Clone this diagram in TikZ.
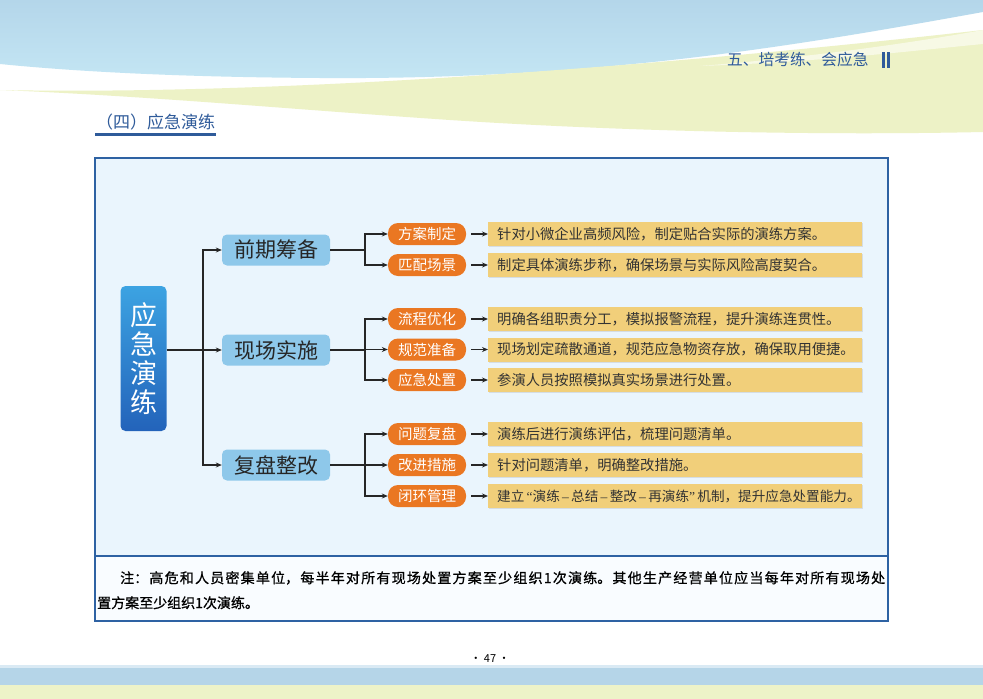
\documentclass[tikz,border=0pt]{standalone}
\usepackage{fontspec}
\setmainfont{Noto Sans CJK SC}
\newfontfamily\notefont[FakeBold=0.8]{Noto Sans CJK SC}
\newfontfamily\latinf{Liberation Serif}
\usetikzlibrary{arrows.meta,shadows}
\XeTeXlinebreaklocale "zh"
\XeTeXlinebreakskip=0pt plus 2pt
\newcommand{\dtext}[1]{\makebox[356pt][l]{#1}}
\definecolor{skyA}{HTML}{B4D6EA}
\definecolor{skyB}{HTML}{C4E6F4}
\definecolor{lime}{HTML}{EDF2C6}
\definecolor{hdrblue}{HTML}{2F5B9A}
\definecolor{framec}{HTML}{2E62A3}
\definecolor{upperfill}{HTML}{EAF5FD}
\definecolor{lowerfill}{HTML}{F9FCFF}
\definecolor{rootTop}{HTML}{3CA3E2}
\definecolor{rootBot}{HTML}{2363BA}
\definecolor{lvtwoc}{HTML}{8EC8EA}
\definecolor{orangec}{HTML}{EA7722}
\definecolor{descc}{HTML}{F1CF7A}
\definecolor{linec}{HTML}{262626}
\definecolor{bandblue}{HTML}{B5D5E8}
\definecolor{bandyel}{HTML}{EDF3C8}
\tikzset{
  rootbox/.style={rounded corners=5pt, top color=rootTop, bottom color=rootBot,
    minimum width=46pt, minimum height=145pt, inner sep=0pt, text=white, align=center,
    font=\fontsize{27}{29}\selectfont},
  lvtwo/.style={rounded corners=5pt, fill=lvtwoc, minimum width=108pt, minimum height=31pt,
    inner sep=0pt, text=black!85, font=\fontsize{21}{22}\selectfont},
  lvthree/.style={rounded corners=10pt, fill=orangec, minimum width=78pt, minimum height=22pt,
    inner sep=0pt, text=white, font=\fontsize{14.5}{16}\selectfont},
  descbox/.style={anchor=west, fill=descc, minimum width=374pt, minimum height=24pt,
    inner xsep=9pt, inner ysep=0pt, text=black!80,
    font=\fontsize{14.3}{15}\selectfont,
    drop shadow={shadow xshift=1pt, shadow yshift=-1pt, opacity=0.25, fill=black!40}},
  conn/.style={draw=linec, line width=1.2pt},
  arr/.style={conn, -{Stealth[length=6pt,width=5pt]}},
}
\begin{document}
\begin{tikzpicture}[x=1pt,y=-1pt]
\useasboundingbox (0,0) rectangle (983,699);
% background
\fill[white] (0,0) rectangle (983,699);
\shade[top color=skyA, bottom color=skyB]
  (0,0) -- (983,0) -- (983,12) .. controls (800,45) and (600,80) .. (320,78)
  .. controls (160,77) and (60,70) .. (0,64) -- cycle;
\fill[lime]
  (0,90) .. controls (300,96) and (700,62) .. (983,30) -- (983,132)
  .. controls (800,136) and (600,130) .. (450,120)
  .. controls (300,110) and (150,96) .. (0,90) -- cycle;
\fill[white!55!lime] (983,30) .. controls (900,45) and (800,58) .. (700,66) -- (700,66)
  .. controls (820,62) and (920,50) .. (983,44) -- cycle;
% bottom bands
\fill[bandblue!50] (0,665) rectangle (983,668);
\fill[bandblue] (0,668) rectangle (983,685);
\fill[bandyel] (0,685) rectangle (983,699);
\node[font=\fontsize{11}{12}\selectfont] (pg) at (490,659) {· 47 ·};
% header
\node[anchor=west, text=hdrblue, inner sep=0pt, font=\fontsize{15.7}{16}\selectfont] (hdr) at (727,60) {五、培考练、会应急};
\fill[hdrblue] (882,52) rectangle (885,68);
\fill[hdrblue] (887,52) rectangle (890,68);
% title
\node[anchor=west, text=hdrblue, inner sep=0pt, font=\fontsize{17}{18}\selectfont] (ttl) at (96,122) {（四）应急演练};
\draw[hdrblue, line width=3pt] (95,134.5) -- (216,134.5);
% frame
\fill[upperfill] (95,158) rectangle (888,556);
\fill[lowerfill] (95,556) rectangle (888,621);
\draw[framec, line width=1.6pt] (95,556) -- (888,556);
\draw[framec, line width=2pt] (95,158) rectangle (888,621);
% nodes
\node[rootbox] (root) at (143.5,358.5) {应\\急\\演\\练};
\node[lvtwo] (a) at (276,250) {前期筹备};
\node[lvtwo] (b) at (276,350) {现场实施};
\node[lvtwo] (c) at (276,465) {复盘整改};
\node[lvthree] (o1) at (427,234) {方案制定};
\node[lvthree] (o2) at (427,265) {匹配场景};
\node[lvthree] (o3) at (427,319) {流程优化};
\node[lvthree] (o4) at (427,349.5) {规范准备};
\node[lvthree] (o5) at (427,380) {应急处置};
\node[lvthree] (o6) at (427,434) {问题复盘};
\node[lvthree] (o7) at (427,465) {改进措施};
\node[lvthree] (o8) at (427,496) {闭环管理};
\node[descbox] (d1) at (488,234) {\dtext{针对小微企业高频风险，制定贴合实际的演练方案。}};
\node[descbox] (d2) at (488,265) {\dtext{制定具体演练步称，确保场景与实际风险高度契合。}};
\node[descbox] (d3) at (488,319) {\dtext{明确各组职责分工，模拟报警流程，提升演练连贯性。}};
\node[descbox] (d4) at (488,349.5) {\dtext{现场划定疏散通道，规范应急物资存放，确保取用便捷。}};
\node[descbox] (d5) at (488,380) {\dtext{参演人员按照模拟真实场景进行处置。}};
\node[descbox] (d6) at (488,434) {\dtext{演练后进行演练评估，梳理问题清单。}};
\node[descbox] (d7) at (488,465) {\dtext{针对问题清单，明确整改措施。}};
\node[descbox, font=\fontsize{13.6}{15}\selectfont] (d8) at (488,496) {\dtext{建立{\latinf\,“}演练{\latinf\,–\,}总结{\latinf\,–\,}整改{\latinf\,–\,}再演练{\latinf ”\,}机制，提升应急处置能力。}};
% connectors
\coordinate (j0) at (203,350);
\coordinate (ja) at (365,250);
\coordinate (jb) at (365,350);
\coordinate (jc) at (365,465);
\draw[conn] (root.east |- j0) -- (j0);
\draw[arr] (j0) |- (a.west);
\draw[arr] (j0) -- (b.west);
\draw[arr] (j0) |- (c.west);
\draw[conn] (a.east) -- (ja);
\draw[conn] (b.east) -- (jb);
\draw[conn] (c.east) -- (jc);
\draw[arr] (ja) |- (o1.west);
\draw[arr] (ja) |- (o2.west);
\draw[arr] (jb) |- (o3.west);
\draw[arr] (jb) |- (o4.west);
\draw[arr] (jb) |- (o5.west);
\draw[arr] (jc) |- (o6.west);
\draw[arr] (jc) |- (o7.west);
\draw[arr] (jc) |- (o8.west);
\foreach \i in {1,...,8}{
  \draw[arr, shorten <=5pt] (o\i) -- (d\i);
}
% note
\node[anchor=north west, text width=788pt, inner sep=0pt, align=justify,
  font=\notefont\fontsize{14}{25}\selectfont] (note) at (97,571)
  {\hspace*{23pt}注：高危和人员密集单位，每半年对所有现场处置方案至少组织1次演练。其他生产经营单位应当每年对所有现场处\linebreak 置方案至少组织1次演练。};
\end{tikzpicture}
\end{document}
